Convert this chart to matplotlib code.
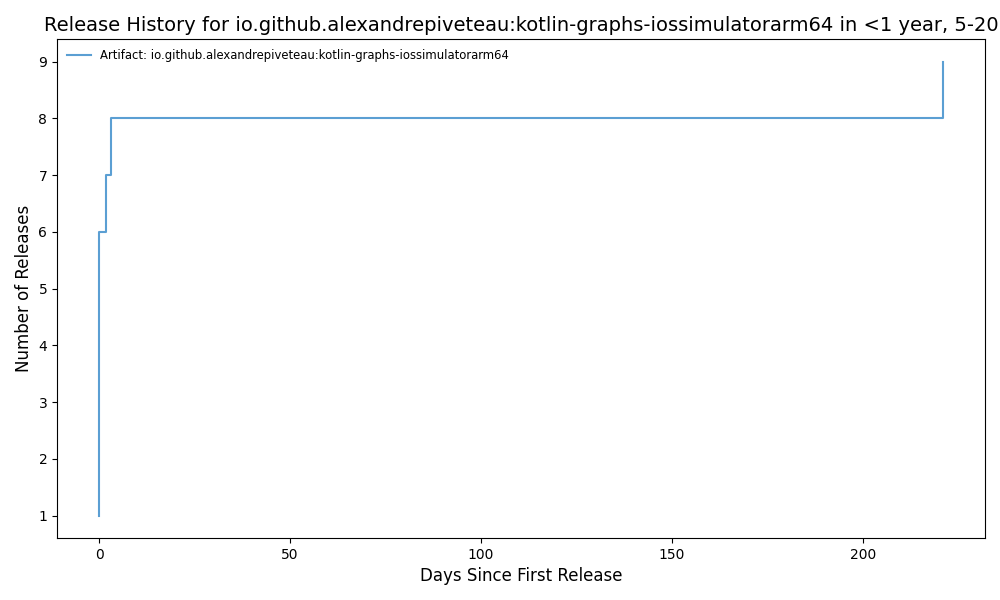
import matplotlib
matplotlib.use("Agg")
import matplotlib.pyplot as plt

artifact = "io.github.alexandrepiveteau:kotlin-graphs-iossimulatorarm64"
days_since_first = [0, 0, 0, 0, 0, 0, 1.9, 3.0, 220.9]
release_counts = [1, 2, 3, 4, 5, 6, 7, 8, 9]

fig, ax = plt.subplots(figsize=(10, 6), dpi=100)
ax.step(days_since_first, release_counts, where="post", color="#5b9fd3",
        linewidth=1.5, label=f"Artifact: {artifact}")

ax.set_title(f"Release History for {artifact} in <1 year, 5-20", fontsize=14)
ax.set_xlabel("Days Since First Release", fontsize=12)
ax.set_ylabel("Number of Releases", fontsize=12)
ax.legend(loc="upper left", fontsize="small", frameon=False)

fig.subplots_adjust(left=0.057, right=0.985, top=0.935, bottom=0.103)
fig.savefig("out.png", dpi=100)
